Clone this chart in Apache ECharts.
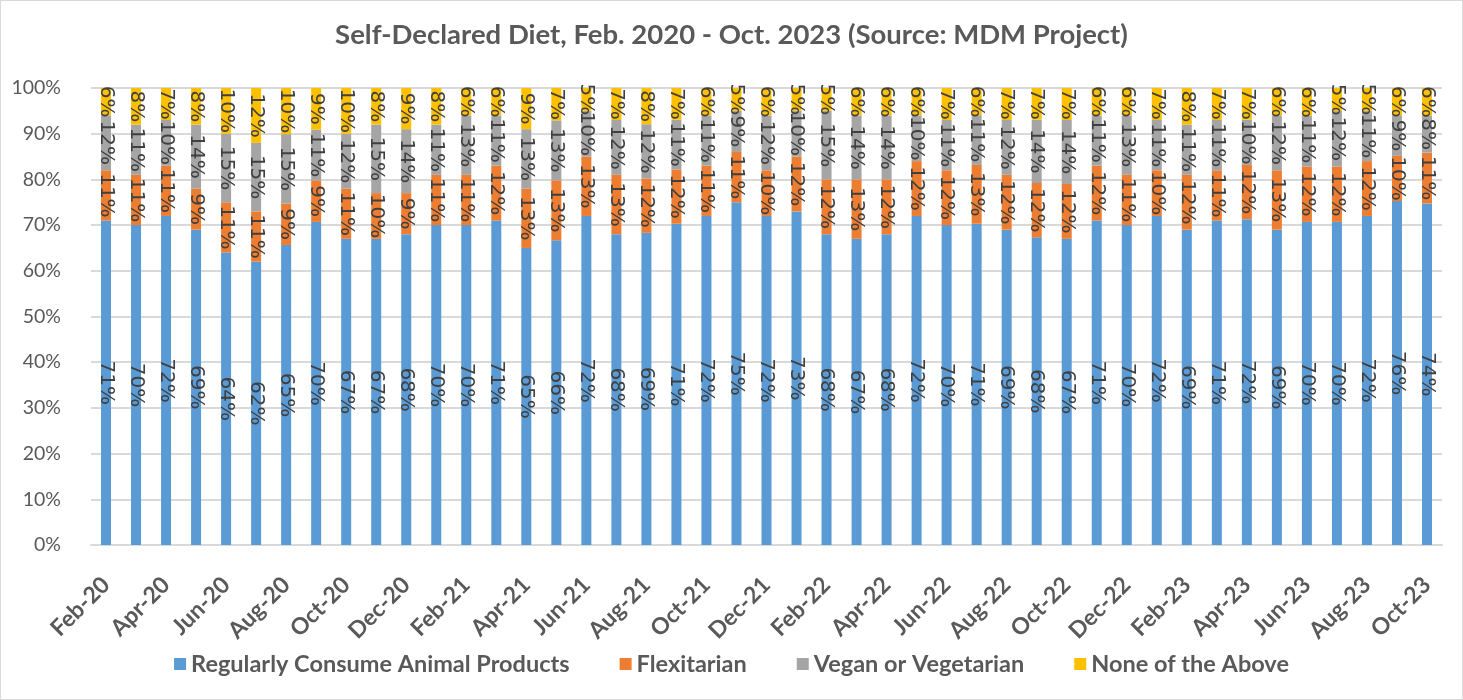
<!DOCTYPE html>
<html><head><meta charset="utf-8">
<script src="https://cdn.jsdelivr.net/npm/echarts@6/dist/echarts.min.js"></script>
<style>html,body{margin:0;padding:0;background:#fff}#c{width:1461px;height:698px;border:1px solid #d9d9d9}</style>
</head><body><div id="c"></div>
<script>
const categories = ["Feb-20","Mar-20","Apr-20","May-20","Jun-20","Jul-20","Aug-20","Sep-20","Oct-20","Nov-20","Dec-20","Jan-21","Feb-21","Mar-21","Apr-21","May-21","Jun-21","Jul-21","Aug-21","Sep-21","Oct-21","Nov-21","Dec-21","Jan-22","Feb-22","Mar-22","Apr-22","May-22","Jun-22","Jul-22","Aug-22","Sep-22","Oct-22","Nov-22","Dec-22","Jan-23","Feb-23","Mar-23","Apr-23","May-23","Jun-23","Jul-23","Aug-23","Sep-23","Oct-23"];
const animal = [71,70,72,69,64,62,65,70,67,67,68,70,70,71,65,66,72,68,69,71,72,75,72,73,68,67,68,72,70,71,69,68,67,71,70,72,69,71,72,69,70,70,72,76,74];
const flexitarian = [11,11,11,9,11,11,9,9,11,10,9,11,11,12,13,13,13,13,12,12,11,11,10,12,12,13,12,12,12,13,12,12,12,12,11,10,12,11,12,13,12,12,12,10,11];
const vegan = [12,11,10,14,15,15,15,11,12,15,14,11,13,11,13,13,10,12,12,11,11,9,12,10,15,14,14,10,11,11,12,14,14,11,13,11,11,11,10,12,11,12,11,9,8];
const none = [6,8,7,8,10,12,10,9,10,8,9,8,6,6,9,7,5,7,8,7,6,5,6,5,5,6,6,6,7,6,7,7,7,6,6,7,8,7,7,6,6,5,5,6,6];
const yTicks = [0,10,20,30,40,50,60,70,80,90,100];

const names = ["Regularly Consume Animal Products","Flexitarian","Vegan or Vegetarian","None of the Above"];
const colors = ["#5B9BD5","#ED7D31","#A5A5A5","#FFC000"];
const all = [animal, flexitarian, vegan, none];
// shares are rounded in the source labels; scale each month so its stack fills 100%
const totals = animal.map((_,j)=>all.reduce((s,a)=>s+a[j],0));

const chart = echarts.init(document.getElementById('c'));
chart.setOption({
  animation:false,
  title:{text:"Self-Declared Diet, Feb. 2020 - Oct. 2023 (Source: MDM Project)",left:'center',top:15,
    textStyle:{fontFamily:'Lato',fontWeight:'bold',fontSize:27.5,color:'#595959'}},
  legend:{bottom:18,left:'center',itemWidth:12,itemHeight:12,itemGap:50,icon:'rect',
    textStyle:{fontFamily:'Lato',fontWeight:'bold',fontSize:23.5,color:'#595959'}},
  grid:{left:90,right:20,top:87,bottom:154},
  xAxis:{type:'category',data:categories,
    axisLine:{lineStyle:{color:'#d9d9d9',width:2}},axisTick:{show:false},
    axisLabel:{interval:1,rotate:45,fontFamily:'Lato',fontWeight:'bold',fontSize:23,color:'#595959',margin:36}},
  yAxis:{type:'value',min:0,max:100,interval:10,
    axisLabel:{formatter:v=>v+'%',fontFamily:'Lato',fontSize:19.5,color:'#595959',margin:30},
    splitLine:{lineStyle:{color:'#d9d9d9',width:2}},axisLine:{show:false},axisTick:{show:false}},
  series: all.map((d,i)=>({
    name:names[i],type:'bar',stack:'t',data:d.map((v,j)=>v/totals[j]*100),barWidth:10,
    itemStyle:{color:colors[i]},
    label:{show:true,position:'inside',rotate:-90,formatter:p=>all[i][p.dataIndex]+'%',
      fontFamily:'DejaVu Sans',fontSize:20,color:'#404040'}
  }))
});
</script></body></html>
